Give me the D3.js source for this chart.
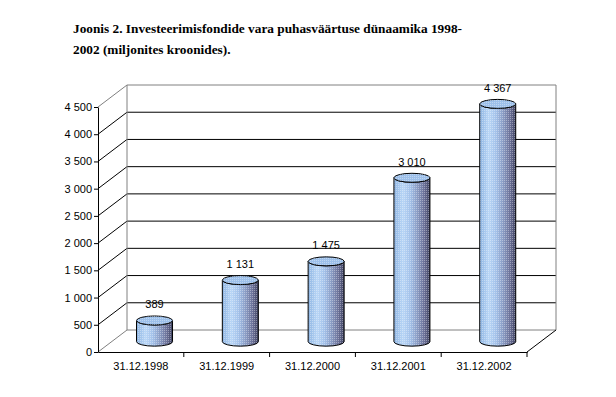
<!DOCTYPE html>
<html>
<head>
<meta charset="utf-8">
<script src="https://cdn.jsdelivr.net/npm/d3@7"></script>
<style>
	body { margin: 0; background: #fff; }
	svg { display: block; }
</style>
</head>
<body>
<script>
let categories = ['31.12.1998', '31.12.1999', '31.12.2000', '31.12.2001', '31.12.2002'];
let values = [389, 1131, 1475, 3010, 4367];
let yTicks = [0, 500, 1000, 1500, 2000, 2500, 3000, 3500, 4000, 4500];
let titleLines = ['Joonis 2. Investeerimisfondide vara puhasväärtuse dünaamika 1998-', '2002 (miljonites kroonides).'];

function renderChart() {
	let width = 616, height = 397;
	//front plane and depth offset of the 3d box
	let box = {left: 98, right: 527, top: 107, bottom: 352, dx: 29, dy: -22};
	let depth = 0.47;

	let svg = d3.select('body').append('svg')
		.attr('width', width)
		.attr('height', height);

	let fmt = d3.formatLocale({decimal: ',', thousands: '\u00a0', grouping: [3], currency: ['', '']}).format(',d');

	let x = d3.scaleBand().domain(categories).range([box.left, box.right]);
	let y = d3.scaleLinear().domain([0, 4500]).range([box.bottom, box.top]);

	// title
	svg.append('g').selectAll('text')
		.data(titleLines)
		.join('text')
		.attr('x', 73)
		.attr('y', (d, i) => 33 + i * 21)
		.attr('font-family', '"Liberation Serif", "Times New Roman", serif')
		.attr('font-weight', 'bold')
		.attr('font-size', '13.3px')
		.attr('fill', '#000')
		.text(d => d);

	let defs = svg.append('defs');
	let grad = defs.append('linearGradient').attr('id', 'cyl')
		.attr('x1', '0%').attr('x2', '100%').attr('y1', '0%').attr('y2', '0%');
	[['0%', '#8db4e2'], ['25%', '#b9d6f6'], ['45%', '#a4c2ea'], ['65%', '#8a9cc4'], ['85%', '#6a6f96'], ['100%', '#3e4260']]
		.forEach(s => grad.append('stop').attr('offset', s[0]).attr('stop-color', s[1]));
	let dots = defs.append('pattern').attr('id', 'dots')
		.attr('width', 2).attr('height', 2).attr('patternUnits', 'userSpaceOnUse');
	dots.append('rect').attr('width', 1).attr('height', 1).attr('fill', '#fff').attr('opacity', 0.35);

	let grid = svg.append('g');
	let grey = '#808080';

	// back wall lines and left wall diagonals
	yTicks.forEach(t => {
		let yf = y(t);
		let isEdge = (t === 0 || t === 4500);
		grid.append('line')
			.attr('x1', box.left).attr('y1', yf)
			.attr('x2', box.left + box.dx).attr('y2', yf + box.dy)
			.attr('stroke', isEdge ? grey : '#000').attr('stroke-width', 1);
		grid.append('line')
			.attr('x1', box.left + box.dx).attr('y1', yf + box.dy)
			.attr('x2', box.right + box.dx).attr('y2', yf + box.dy)
			.attr('stroke', isEdge ? grey : '#000').attr('stroke-width', 1);
	});
	// back wall verticals
	grid.append('line')
		.attr('x1', box.left + box.dx).attr('y1', y(4500) + box.dy)
		.attr('x2', box.left + box.dx).attr('y2', y(0) + box.dy)
		.attr('stroke', grey);
	grid.append('line')
		.attr('x1', box.right + box.dx).attr('y1', y(4500) + box.dy)
		.attr('x2', box.right + box.dx).attr('y2', y(0) + box.dy)
		.attr('stroke', grey);
	// floor right edge
	grid.append('line')
		.attr('x1', box.right).attr('y1', y(0))
		.attr('x2', box.right + box.dx).attr('y2', y(0) + box.dy)
		.attr('stroke', '#000');

	// cylinders
	let rx = 18, ry = 4.5;
	let cyl = svg.append('g').selectAll('g')
		.data(values.map((v, i) => ({cat: categories[i], v: v})))
		.join('g');

	let cx = d => x(d.cat) + x.bandwidth() / 2 + box.dx * depth;
	let base = d => y(0) + box.dy * depth;
	let top = d => y(d.v) + box.dy * depth;

	let bodyPath = d => {
		let c = cx(d), b = base(d), t = top(d);
		return 'M' + (c - rx) + ',' + t
			+ 'L' + (c - rx) + ',' + b
			+ 'A' + rx + ',' + ry + ' 0 0 0 ' + (c + rx) + ',' + b
			+ 'L' + (c + rx) + ',' + t
			+ 'A' + rx + ',' + ry + ' 0 0 1 ' + (c - rx) + ',' + t + 'Z';
	};
	cyl.append('path')
		.attr('d', bodyPath)
		.attr('fill', 'url(#cyl)');
	cyl.append('path')
		.attr('d', bodyPath)
		.attr('fill', 'url(#dots)')
		.attr('stroke', '#000')
		.attr('stroke-width', 1);
	cyl.append('ellipse')
		.attr('cx', cx).attr('cy', top)
		.attr('rx', rx).attr('ry', ry)
		.attr('fill', '#9dc0ea')
		.attr('stroke', '#000');
	cyl.append('ellipse')
		.attr('cx', cx).attr('cy', top)
		.attr('rx', rx).attr('ry', ry)
		.attr('fill', 'url(#dots)');
	cyl.append('text')
		.attr('x', cx)
		.attr('y', d => top(d) - 12)
		.attr('text-anchor', 'middle')
		.attr('font-family', 'Arial, "Liberation Sans", sans-serif')
		.attr('font-size', '11px')
		.text(d => fmt(d.v));

	// front axes
	let yAxis = d3.axisLeft(y).tickValues(yTicks).tickSize(4).tickSizeOuter(0).tickFormat(fmt);
	let gy = svg.append('g')
		.attr('transform', 'translate(' + box.left + ',0)')
		.call(yAxis);
	gy.selectAll('text')
		.attr('font-family', 'Arial, "Liberation Sans", sans-serif')
		.attr('font-size', '11px')
		.attr('fill', '#000')
		.attr('x', -6);

	let xAxis = d3.axisBottom(x).tickSize(0).tickSizeOuter(0);
	let gx = svg.append('g')
		.attr('transform', 'translate(0,' + box.bottom + ')')
		.call(xAxis);
	gx.selectAll('text')
		.attr('font-family', 'Arial, "Liberation Sans", sans-serif')
		.attr('font-size', '11px')
		.attr('fill', '#000')
		.attr('y', 10);
	// category separators below the axis
	gx.selectAll('.sep')
		.data(categories.slice(1).concat(['end']))
		.join('line')
		.attr('class', 'sep')
		.attr('x1', (d, i) => x.range()[0] + x.step() * (i + 1))
		.attr('x2', (d, i) => x.range()[0] + x.step() * (i + 1))
		.attr('y1', 0).attr('y2', 5)
		.attr('stroke', '#000');
	svg.selectAll('.domain').attr('stroke', '#000');
}
renderChart();
</script>
</body>
</html>
